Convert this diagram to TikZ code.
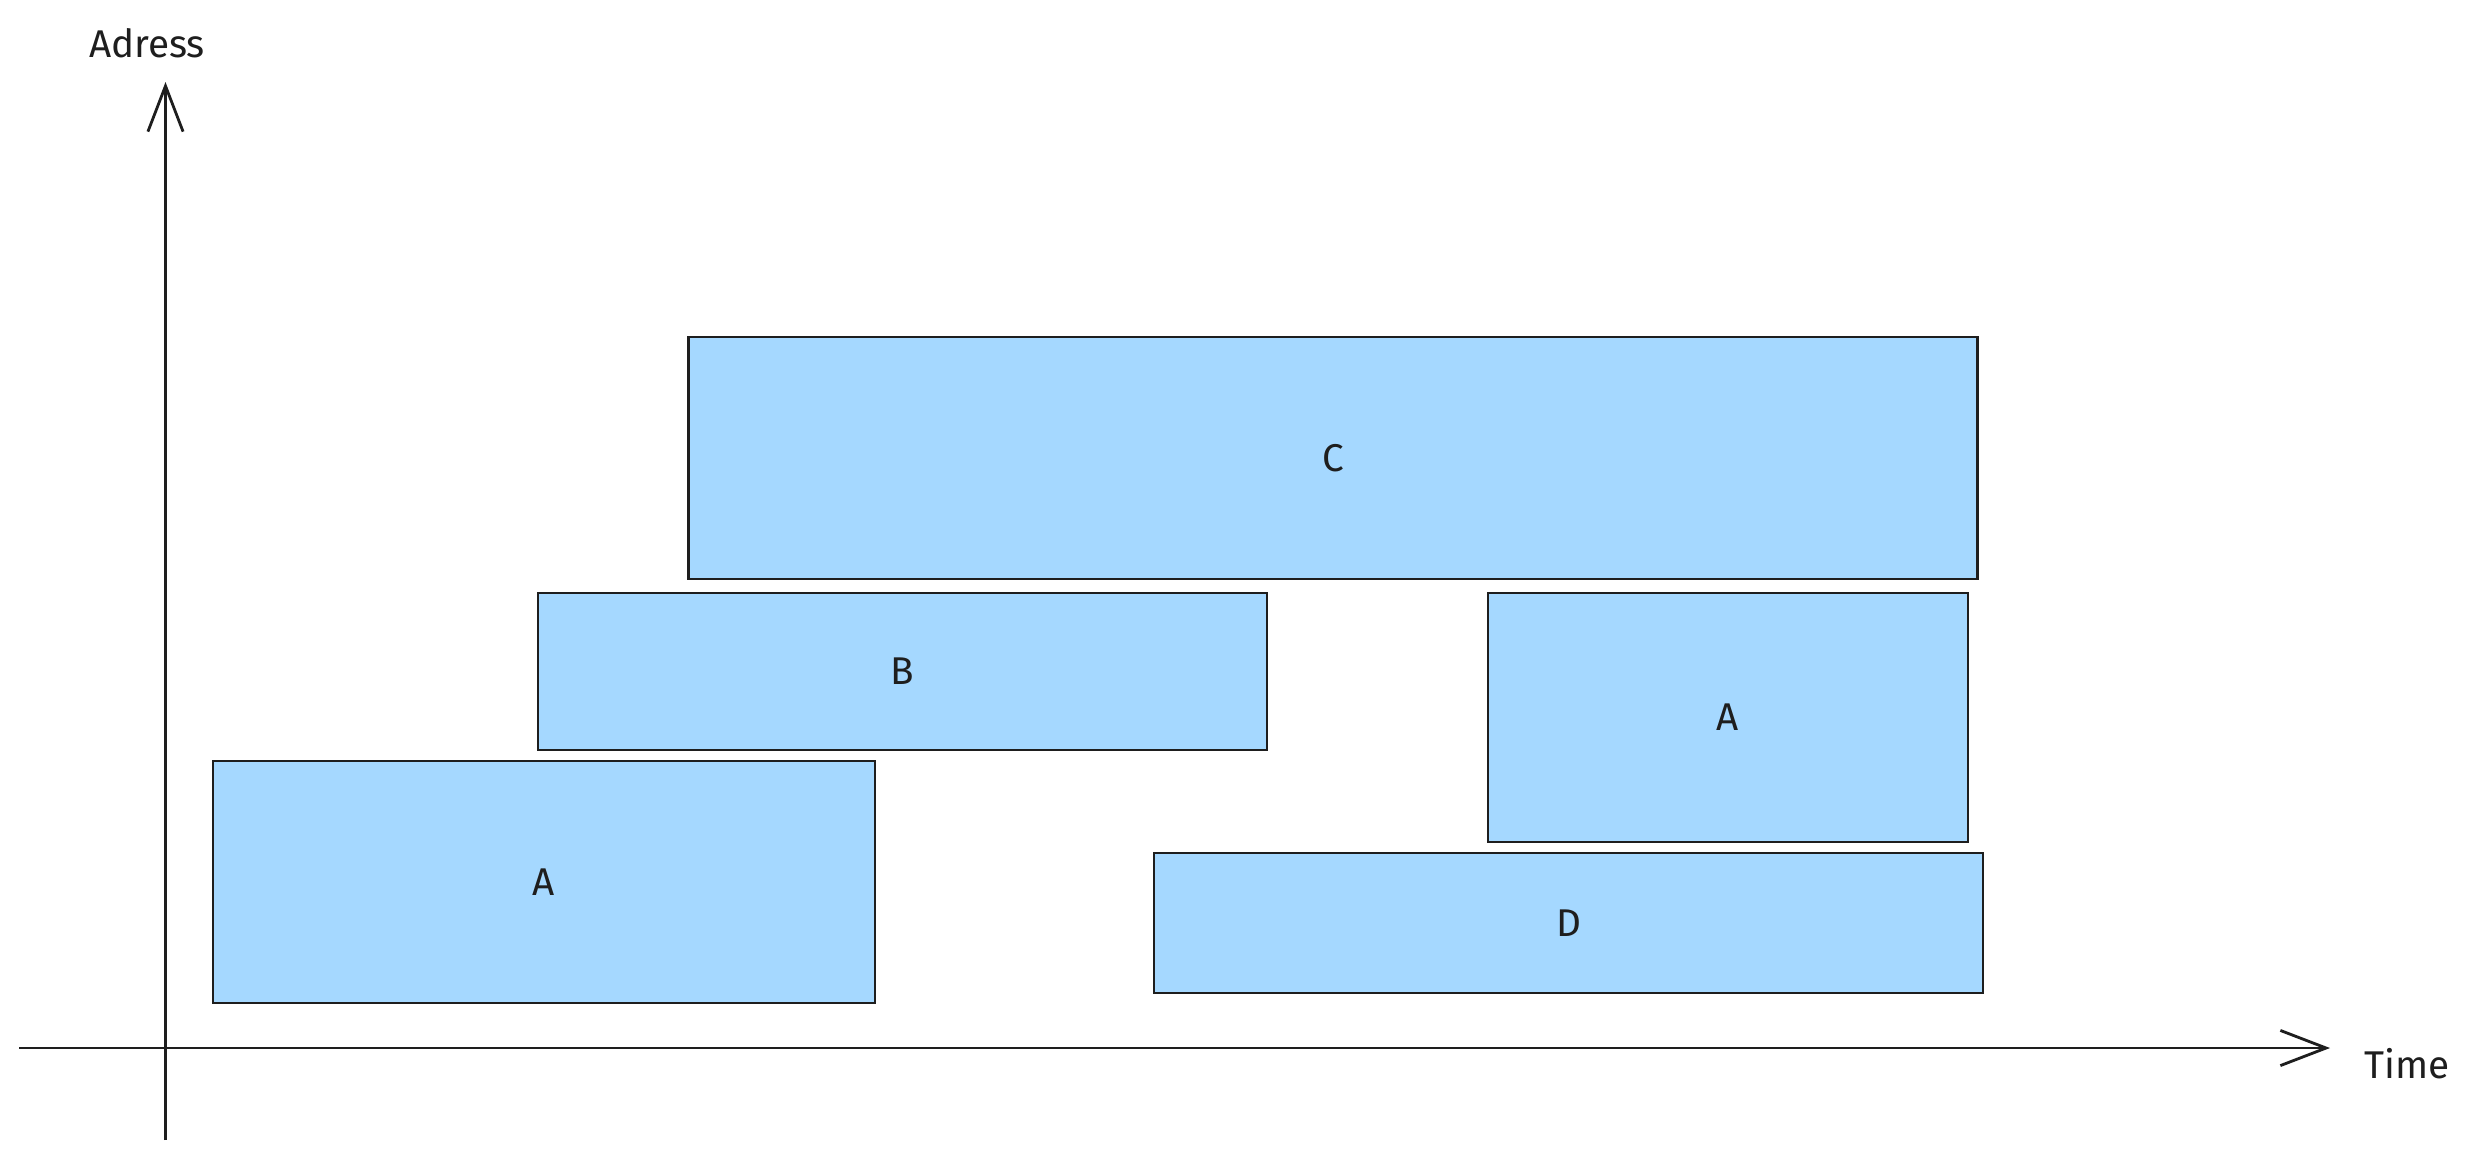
\documentclass[tikz,border=0pt]{standalone}
\usepackage{fontspec}
\setmainfont{Fira Sans}
\usetikzlibrary{arrows.meta}
\definecolor{boxfill}{HTML}{A5D8FF}
\definecolor{ink}{HTML}{1E1E1E}
\begin{document}
\begin{tikzpicture}[x=0.01cm,y=-0.01cm,
  blk/.style={draw=ink,fill=boxfill,line width=0.7pt,inner sep=0pt,font=\fontsize{11}{13}\selectfont,text=ink},
  axis/.style={draw=ink,line width=0.8pt,-{Straight Barb[length=13pt,width=10pt,line width=0.8pt]}},
  lbl/.style={font=\fontsize{11}{13}\selectfont,text=ink,inner sep=0pt}]
\useasboundingbox (0,0) rectangle (2472,1160);
% boxes
\node[blk,minimum width=12.88cm,minimum height=2.42cm] (C) at (1333,458) {C};
\node[blk,minimum width=7.29cm,minimum height=1.57cm] (B) at (902.5,671.5) {B};
\node[blk,minimum width=6.62cm,minimum height=2.42cm] (A1) at (544,882) {A};
\node[blk,minimum width=4.80cm,minimum height=2.49cm] (A2) at (1728,717.5) {A};
\node[blk,minimum width=8.29cm,minimum height=1.40cm] (D) at (1568.5,923) {D};
% axes
\coordinate (ybot) at (165.5,1140);
\coordinate (ytop) at (165.5,82);
\coordinate (xl) at (19,1048);
\coordinate (xr) at (2330,1048);
\draw[axis] (ybot) -- (ytop);
\draw[axis] (xl) -- (xr);
\node[lbl] (yl) at (147,43) {Adress};
\node[lbl] (tl) at (2407,1064) {Time};
\end{tikzpicture}
\end{document}
